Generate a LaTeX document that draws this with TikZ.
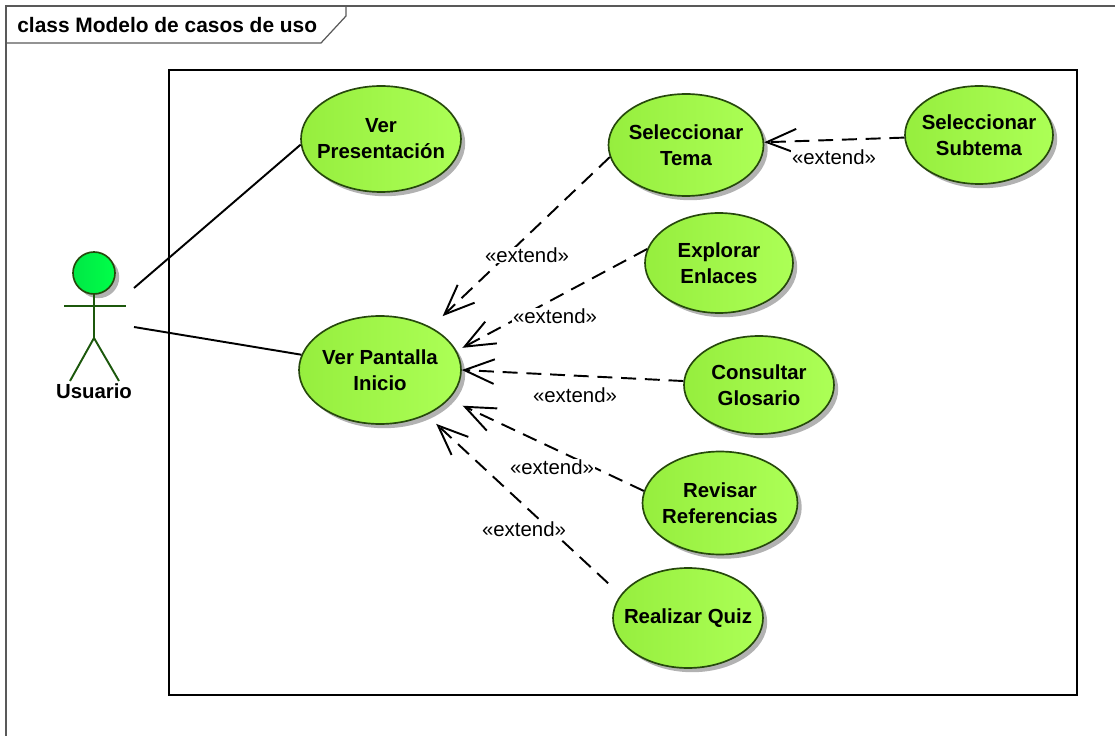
\documentclass[tikz,border=0pt]{standalone}
\usepackage{fontspec}
\setmainfont{Liberation Sans}
\usetikzlibrary{shapes.geometric, shadows, arrows.meta}

\definecolor{casoleft}{RGB}{150,238,62}
\definecolor{casoright}{RGB}{172,255,86}
\definecolor{casoline}{RGB}{38,72,12}
\definecolor{actorline}{RGB}{28,88,12}
\definecolor{actorleft}{RGB}{0,232,70}
\definecolor{actorright}{RGB}{0,255,72}

\tikzset{
  usecase/.style = {ellipse, draw = casoline, line width = 0.95pt,
                    left color = casoleft, right color = casoright,
                    drop shadow = {shadow xshift = 2.4pt, shadow yshift = -2.4pt,
                                   fill = black, opacity = 0.3},
                    inner sep = -12pt, align = center, font = \fontsize{11.6}{14.8}\selectfont\bfseries},
  plainlink/.style  = {black, line width = 1.1pt},
  extendlink/.style = {black, line width = 1.1pt, dash pattern = on 8.5pt off 5pt,
                       -{Straight Barb[length = 17pt, width = 14pt, line width = 1.1pt]}},
  extendtext/.style = {fill = white, inner sep = 0.5pt, font = \fontsize{11.6}{14}\selectfont},
  actorpart/.style  = {actorline, line width = 1.1pt}
}

\begin{document}
\begin{tikzpicture}[x=0.02cm, y=-0.02cm]
  \useasboundingbox (0,0) rectangle (1115,736);

  \draw[black!65, line width = 0.7pt] (1115,6) -- (6,6) -- (6,736);
  \draw[black!65, line width = 0.7pt] (6,43) -- (321,43) -- (346,16) -- (346,6);
  \node[anchor = west, inner sep = 0pt, font = \fontsize{11.9}{14}\selectfont\bfseries]
    (title) at (17,25) {class Modelo de casos de uso};

  \draw[black, line width = 1.2pt] (169,70) rectangle (1077,695);

  \node[usecase, minimum width = 3.2cm,  minimum height = 2.12cm] (presentacion) at (381,139) {Ver\\Presentación};
  \node[usecase, minimum width = 3.24cm, minimum height = 2.16cm] (pantalla)     at (380,370) {Ver Pantalla\\Inicio};
  \node[usecase, minimum width = 3.1cm,  minimum height = 2.04cm] (tema)         at (686,145) {Seleccionar\\Tema};
  \node[usecase, minimum width = 2.96cm, minimum height = 1.96cm] (subtema)      at (979,135) {Seleccionar\\Subtema};
  \node[usecase, minimum width = 2.96cm, minimum height = 2cm]    (enlaces)      at (719,263) {Explorar\\Enlaces};
  \node[usecase, minimum width = 3cm,    minimum height = 1.96cm] (glosario)     at (759,385) {Consultar\\Glosario};
  \node[usecase, minimum width = 3.1cm,  minimum height = 2.06cm] (referencias)  at (720,503) {Revisar\\Referencias};
  \node[usecase, minimum width = 3cm,    minimum height = 2cm]    (quiz)         at (688,618) {Realizar Quiz};

  \node[circle, draw = casoline, line width = 0.95pt, minimum size = 0.84cm, inner sep = 0pt,
        left color = actorleft, right color = actorright,
        drop shadow = {shadow xshift = 2.4pt, shadow yshift = -2.4pt, fill = black, opacity = 0.3}]
    (head) at (94,273) {};
  \coordinate (hip) at (94,338);
  \draw[actorpart] (head.south) -- (hip);
  \draw[actorpart] (64,306) -- (126,306);
  \draw[actorpart] (70,381) -- (hip) -- (119,381);
  \node[inner sep = 0pt, font = \fontsize{11.6}{14}\selectfont\bfseries] (usuario) at (94,391) {Usuario};

  \coordinate (actor a) at (134,288);
  \coordinate (actor b) at (134,327);
  \draw[plainlink] (actor a) -- (presentacion.184);
  \draw[plainlink] (actor b) -- (pantalla.169);

  \draw[extendlink, shorten >= 0.32cm]  (tema.189)        -- (pantalla.40.7);
  \draw[extendlink, shorten >= 0.13cm]  (enlaces.169)     -- (pantalla.14.9);
  \draw[extendlink]                     (glosario.177)    -- (pantalla.0);
  \draw[extendlink, shorten >= 0.3cm]   (referencias.171) -- (pantalla.-23.8);
  \draw[extendlink, shorten <= 0.34cm, shorten >= 0.26cm] (quiz.161) -- (pantalla.-44);
  \draw[extendlink]                     (subtema.182)     -- (tema.2);

  \node[extendtext] (label tema)        at (527,255) {«extend»};
  \node[extendtext] (label enlaces)     at (555,316) {«extend»};
  \node[extendtext] (label glosario)    at (575,395) {«extend»};
  \node[extendtext] (label referencias) at (552,467) {«extend»};
  \node[extendtext] (label quiz)        at (524,529) {«extend»};
  \node[extendtext] (label subtema)     at (834,157) {«extend»};
\end{tikzpicture}
\end{document}
